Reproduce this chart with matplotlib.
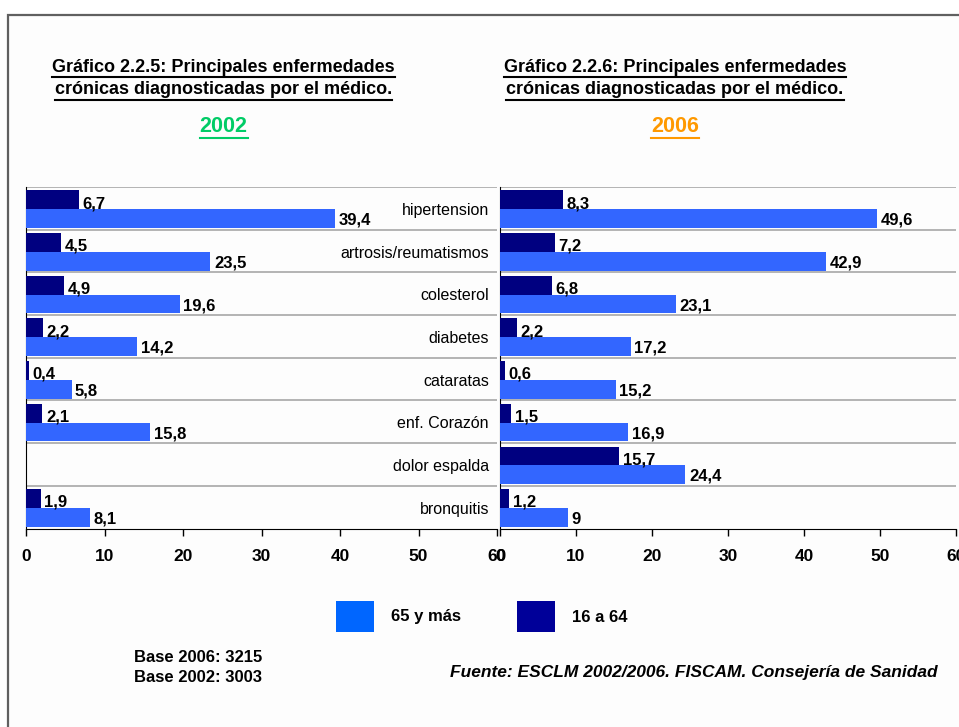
import numpy as np
import matplotlib
matplotlib.use("Agg")
import matplotlib.pyplot as plt
from matplotlib.patches import Rectangle
from matplotlib.lines import Line2D

plt.rcParams['font.family'] = ['Liberation Sans', 'DejaVu Sans']

categories = ['hipertension', 'artrosis/reumatismos', 'colesterol', 'diabetes',
              'cataratas', 'enf. Corazón', 'dolor espalda', 'bronquitis']
young_2002 = [6.7, 4.5, 4.9, 2.2, 0.4, 2.1, np.nan, 1.9]
old_2002 = [39.4, 23.5, 19.6, 14.2, 5.8, 15.8, np.nan, 8.1]
young_2006 = [8.3, 7.2, 6.8, 2.2, 0.6, 1.5, 15.7, 1.2]
old_2006 = [49.6, 42.9, 23.1, 17.2, 15.2, 16.9, 24.4, 9]
x_ticks = [0, 10, 20, 30, 40, 50, 60]
legend_labels = ['65 y más', '16 a 64']

DARK = '#000080'
LIGHT = '#3366FF'
W, H = 959, 727

fig = plt.figure(figsize=(W / 100, H / 100), dpi=100)
fig.patch.set_facecolor('white')

# frame around the whole chart
fig.add_artist(Rectangle((8 / W, -0.1), 1.2, 1 - 15 / H + 0.1, transform=fig.transFigure,
                         facecolor='#FDFDFD', edgecolor='#606060', lw=1.6, zorder=-5))


def px_axes(x0, x1, ytop, ybot):
    return fig.add_axes([x0 / W, 1 - ybot / H, (x1 - x0) / W, (ybot - ytop) / H])


def fmt(v):
    return f"{v:g}".replace('.', ',')


def draw_panel(ax, young, old, with_names):
    y = np.arange(len(categories))
    ax.barh(y - 0.2, young, height=0.44, color=DARK, zorder=3)
    ax.barh(y + 0.24, old, height=0.44, color=LIGHT, zorder=3)
    for i in range(len(categories)):
        if not np.isnan(young[i]):
            ax.annotate(fmt(young[i]), (young[i], i - 0.11), xytext=(2.5, 0),
                        textcoords='offset points', va='center', ha='left',
                        fontsize=12, fontweight='bold', zorder=4)
        if not np.isnan(old[i]):
            ax.annotate(fmt(old[i]), (old[i], i + 0.28), xytext=(2.5, 0),
                        textcoords='offset points', va='center', ha='left',
                        fontsize=12, fontweight='bold', zorder=4)
        if with_names:
            ax.text(0.983, i + 0.05, categories[i], transform=ax.get_yaxis_transform(),
                    ha='right', va='center', fontsize=11.5, zorder=4)
    ax.set_xlim(0, 60)
    ax.set_ylim(len(categories) - 0.5, -0.5)
    ax.set_xticks(x_ticks)
    ax.set_xticklabels([str(t) for t in x_ticks], fontsize=12.5, fontweight='bold')
    ax.set_yticks([])
    ax.set_yticks(np.arange(-0.5, len(categories) - 0.5, 1), minor=True)
    ax.grid(axis='y', which='minor', color='#A0A0A0', lw=1.1, zorder=1)
    ax.tick_params(axis='y', which='minor', length=0)
    ax.tick_params(axis='x', direction='out', length=5, width=1, pad=10, color='black')
    ax.set_facecolor('none')
    for s in ['top', 'right']:
        ax.spines[s].set_visible(False)
    ax.spines['left'].set_color('black')
    ax.spines['bottom'].set_color('black')


ax1 = px_axes(26, 497, 187, 528.5)
draw_panel(ax1, young_2002, old_2002, True)
ax2 = px_axes(500, 956, 187, 528.5)
draw_panel(ax2, young_2006, old_2006, False)

# titles
titles = []
for cx, num, year, ycol in [(223.5, '2.2.5', '2002', '#00CC66'), (675, '2.2.6', '2006', '#FF9900')]:
    t1 = fig.text(cx / W, 1 - 68 / H, f'Gráfico {num}: Principales enfermedades',
                  ha='center', va='center', fontsize=13, fontweight='bold')
    t2 = fig.text(cx / W, 1 - 90 / H, 'crónicas diagnosticadas por el médico.',
                  ha='center', va='center', fontsize=13, fontweight='bold')
    t3 = fig.text(cx / W, 1 - 127 / H, year, ha='center', va='center',
                  fontsize=15.5, fontweight='bold', color=ycol)
    titles += [(t1, 77, 'black'), (t2, 99.5, 'black'), (t3, 137.5, ycol)]

# legend
for x0, col, lab in [(336, '#0066FF', legend_labels[0]), (517, '#000099', legend_labels[1])]:
    fig.add_artist(Rectangle((x0 / W, 1 - 632 / H), 38 / W, 31 / H,
                             transform=fig.transFigure, facecolor=col, edgecolor='none'))
    fig.text((x0 + 55) / W, 1 - 617 / H, lab, ha='left', va='center',
             fontsize=12, fontweight='bold')

fig.text(134 / W, 1 - 657 / H, 'Base 2006: 3215', ha='left', va='center',
         fontsize=12, fontweight='bold')
fig.text(134 / W, 1 - 677 / H, 'Base 2002: 3003', ha='left', va='center',
         fontsize=12, fontweight='bold')
fig.text(938 / W, 1 - 673 / H, 'Fuente: ESCLM 2002/2006. FISCAM. Consejería de Sanidad',
         ha='right', va='center', fontsize=12.5, fontweight='bold', style='italic')

# underline the title lines
fig.canvas.draw()
r = fig.canvas.get_renderer()
for t, yu, col in titles:
    bb = t.get_window_extent(r)
    fig.add_artist(Line2D([bb.x0 / W, bb.x1 / W], [1 - yu / H, 1 - yu / H],
                          transform=fig.transFigure, color=col, lw=1.5))

fig.savefig('out.png', dpi=100)
